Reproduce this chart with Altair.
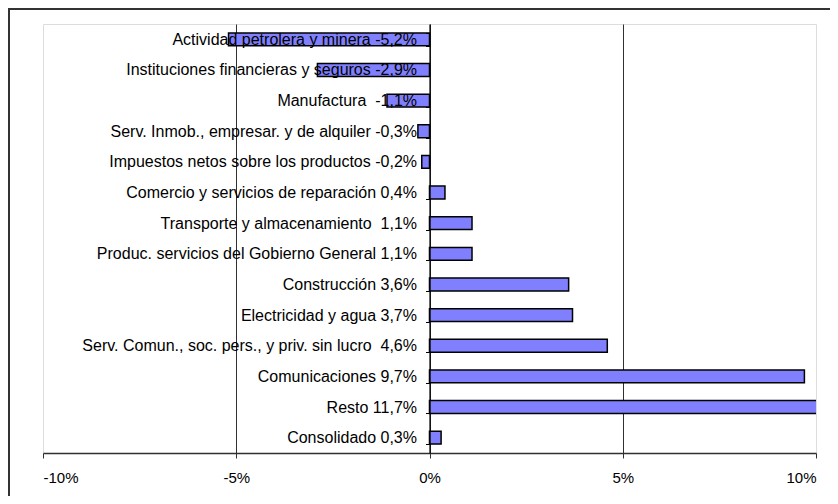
import altair as alt
import pandas as pd

NB = "\u00a0"
labels = [
    "Actividad petrolera y minera -5,2%",
    "Instituciones financieras y seguros -2,9%",
    "Manufactura" + NB + " -1,1%",
    "Serv. Inmob., empresar. y de alquiler -0,3%",
    "Impuestos netos sobre los productos -0,2%",
    "Comercio y servicios de reparación 0,4%",
    "Transporte y almacenamiento" + NB + " 1,1%",
    "Produc. servicios del Gobierno General 1,1%",
    "Construcción 3,6%",
    "Electricidad y agua 3,7%",
    "Serv. Comun., soc. pers., y priv. sin lucro" + NB + " 4,6%",
    "Comunicaciones 9,7%",
    "Resto 11,7%",
    "Consolidado 0,3%",
]
values = [-5.2, -2.9, -1.1, -0.3, -0.2, 0.4, 1.1, 1.1, 3.6, 3.7, 4.6, 9.7, 11.7, 0.3]
x_ticks = [-10, -5, 0, 5, 10]

df = pd.DataFrame({"label": labels, "value": values})

W, H = 773, 429
FONT = "Liberation Sans"

x_scale = alt.Scale(domain=[-10, 10], nice=False, zero=False)
y_scale = alt.Scale(paddingInner=0.58, paddingOuter=0.29)

bars = alt.Chart(df).mark_bar(
    color="#8080FF", stroke="black", strokeWidth=1.5, clip=True
).encode(
    x=alt.X(
        "value:Q",
        scale=x_scale,
        axis=alt.Axis(
            values=x_ticks,
            labelExpr="datum.value + '%'",
            title=None,
            grid=True,
            gridColor="#303030",
            gridWidth=1,
            gridOpacity={"condition": {"test": "abs(datum.value) == 10", "value": 0}, "value": 1},
            domainColor="#303030",
            domainWidth=1.5,
            tickColor="#303030",
            tickSize=5,
            labelPadding=12,
            labelFont=FONT,
            labelFontSize=15,
            labelColor="black",
        ),
    ),
    y=alt.Y(
        "label:N",
        sort=labels,
        scale=y_scale,
        axis=alt.Axis(
            title=None,
            offset=-W / 2,
            tickBand="extent",
            tickSize=4,
            tickColor="black",
            domainColor="black",
            domainWidth=1.2,
            labelPadding=9,
            labelFont=FONT,
            labelFontSize=16,
            labelColor="black",
            labelLimit=0,
            grid=False,
            zindex=1,
        ),
    ),
)

frame_df = pd.DataFrame({"k": [0]})
frame_left = alt.Chart(frame_df).mark_rule(color="#333333", strokeWidth=2, clip=False).encode(
    x=alt.value(-34), y=alt.value(-16), y2=alt.value(H + 60)
)
frame_top = alt.Chart(frame_df).mark_rule(color="#333333", strokeWidth=2, clip=False).encode(
    y=alt.value(-15), x=alt.value(-35), x2=alt.value(W + 40)
)

chart = alt.layer(frame_left, frame_top, bars).properties(
    width=W,
    height=H,
    autosize=alt.AutoSizeParams(type="none"),
    padding={"left": 35, "top": 16, "right": 14, "bottom": 43},
).configure_view(
    stroke="#808080", strokeWidth=1.5
).configure(background="white")

chart.save("out.html", embed_options={"renderer": "svg", "actions": False})
